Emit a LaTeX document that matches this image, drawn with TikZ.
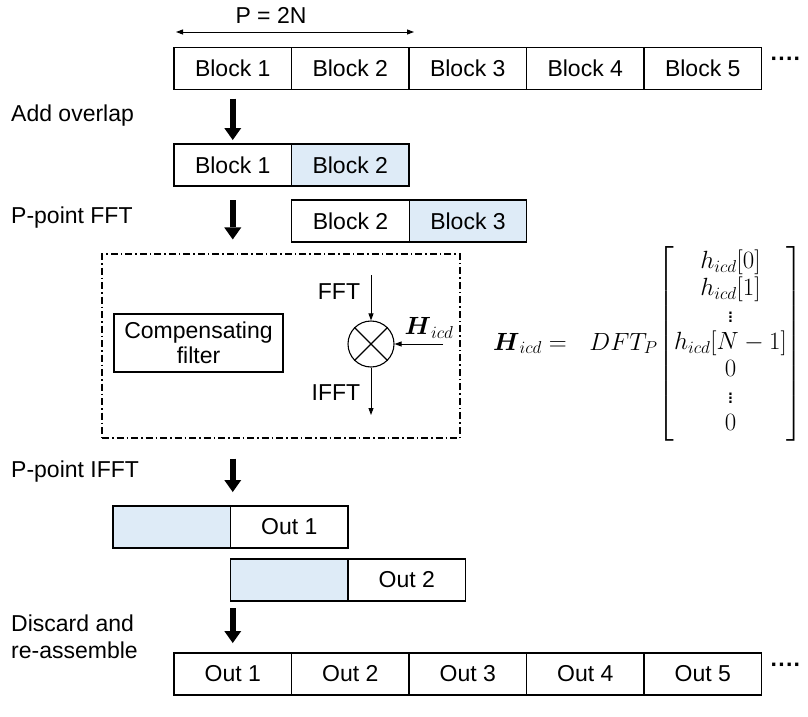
\documentclass[tikz,border=0pt]{standalone}
\usepackage{amsmath}
\usepackage{fontspec}
\setmainfont{Liberation Sans}
\usetikzlibrary{arrows.meta,positioning}
\definecolor{ovlblue}{HTML}{DEEBF7}

\begin{document}
\begin{tikzpicture}[
  x=1pt, y=-1pt,
  font=\fontsize{23}{27}\selectfont,
  >={Triangle[length=7pt,width=5pt]},
  blk/.style={draw, line width=1.1pt, minimum width=117.5pt, minimum height=42pt, inner sep=0pt, outer sep=0pt},
  ovl/.style={blk, fill=ovlblue},
  lbl/.style={anchor=west, align=left, inner sep=0pt},
  fat/.style={line width=6pt, -{Triangle[length=12pt,width=17pt,line width=0pt]}},
  thin/.style={line width=0.9pt}
]
\useasboundingbox (0,0) rectangle (808,717);
% input stream
\node[blk] (b1) at (232.75,68.5) {Block 1};
\node[blk, right=0pt of b1] (b2) {Block 2};
\node[blk, right=0pt of b2] (b3) {Block 3};
\node[blk, right=0pt of b3] (b4) {Block 4};
\node[blk, right=0pt of b4] (b5) {Block 5};
\node (bdots) at (786,62) {\textbf{····}};
\coordinate (pl) at (176,32);
\coordinate (pr) at (414,32);
\draw[thin, <->] (pl) -- (pr);
\node (plen) at (271,15) {P = 2N};

% overlap
\node[lbl] (add) at (11,116) {Add overlap};
\node[blk] (c1) at (232.75,165) {Block 1};
\node[ovl, right=0pt of c1] (c2) {Block 2};
\node[blk] (d1) at (350.5,221) {Block 2};
\node[ovl, right=0pt of d1] (d2) {Block 3};
\node[lbl] (fft) at (11,218) {P-point FFT};
\draw[fat, shorten <=9pt, shorten >=4pt] (b1.south) -- (c1.north);

% frequency domain filtering
\node[draw, line width=1.1pt, dash pattern=on 7pt off 3pt on 1.5pt off 3pt,
  minimum width=358pt, minimum height=184pt] (frame) at (281,346) {};
\draw[fat, shorten <=14pt, shorten >=14pt] (c1.south) -- (c1 |- frame.north);
\node[draw, line width=1.1pt, minimum width=169pt, minimum height=58pt, align=center,
  inner sep=0pt] (comp) at (198.5,343) {Compensating\\[-2pt]filter};
\node[draw, circle, line width=1.1pt, minimum size=46pt, inner sep=0pt] (mul) at (371,344) {};
\draw[line width=1.1pt] (mul.45) -- (mul.225) (mul.135) -- (mul.-45);
\coordinate (fin) at (371,275);
\coordinate (fout) at (371,415);
\coordinate (hin) at (443,344);
\draw[thin, ->] (fin) -- (mul.north);
\draw[thin, ->] (mul.south) -- (fout);
\draw[thin, ->] (hin) -- (mul.east);
\node (flab) at (339,292) {FFT};
\node (iflab) at (336,393) {IFFT};
\node (hlab) at (429,328) {$\boldsymbol{H}_{icd}$};
\node[anchor=west, inner sep=0pt] (eq) at (493,344) {$\setlength\arraycolsep{1pt}\boldsymbol{H}_{icd} =\enspace\, DFT_P\!
  \begin{bmatrix} h_{icd}[0]\\ h_{icd}[1]\\ \vdots\\ h_{icd}[N-1]\\ 0\\ \vdots\\ 0 \end{bmatrix}$};

% back to time domain
\node[lbl] (ifft) at (11,472) {P-point IFFT};
\draw[fat, shorten <=20pt, shorten >=13pt] (c1 |- frame.south) -- (c1 |- 0,505);
\node[ovl] (e0) at (171.75,527) {};
\node[blk, right=0pt of e0] (e1) {Out 1};
\node[ovl, right=0pt of e1.south west, anchor=north west, yshift=-11pt] (f0) {};
\node[blk, right=0pt of f0] (f1) {Out 2};

% output stream
\node[lbl] (disc) at (11,637) {Discard and\\re-assemble};
\node[blk] (g1) at (232.75,674) {Out 1};
\node[blk, right=0pt of g1] (g2) {Out 2};
\node[blk, right=0pt of g2] (g3) {Out 3};
\node[blk, right=0pt of g3] (g4) {Out 4};
\node[blk, right=0pt of g4] (g5) {Out 5};
\node (gdots) at (786,668) {\textbf{····}};
\draw[fat, shorten <=7pt, shorten >=10pt] (g1 |- f0.south) -- (g1.north);
\end{tikzpicture}
\end{document}
